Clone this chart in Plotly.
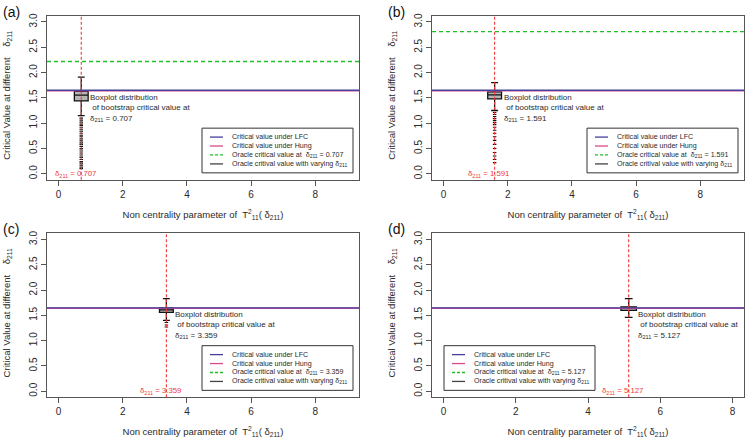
import plotly.graph_objects as go
from plotly.subplots import make_subplots

# ---------------- data ----------------
panel_labels = ["(a)", "(b)", "(c)", "(d)"]
delta_values = [0.707, 1.591, 3.359, 5.127]
delta_text = ["0.707", "1.591", "3.359", "5.127"]
x_max_data = [9.0, 9.0, 9.0, 8.0]

crit_lfc = [1.65, 1.65, 1.65, 1.65]
crit_hung = [1.64, 1.64, 1.64, 1.64]
oracle_crit = [2.22, 2.81, None, None]   # (c),(d): above the plotted range

box_q1 = [1.44, 1.48, 1.56, 1.60]
box_median = [1.555, 1.56, 1.61, 1.64]
box_q3 = [1.63, 1.62, 1.65, 1.67]
box_low = [1.15, 1.25, 1.40, 1.46]
box_high = [1.91, 1.80, 1.83, 1.83]
outliers_a = [1.10, 1.06, 1.02, 0.98, 0.95, 0.91, 0.87, 0.84, 0.80, 0.76, 0.73, 0.69,
              0.65, 0.61, 0.58, 0.54, 0.50, 0.47, 0.43, 0.39, 0.35, 0.32, 0.28,
              0.24, 0.21, 0.17, 0.13, 0.10]
outliers_b = [1.21, 1.17, 1.13, 1.09, 1.05, 1.01, 0.97, 0.92, 0.86, 0.80, 0.73,
              0.66, 0.58, 0.50, 0.42, 0.35, 0.28, 0.22]
outliers_c = [1.36, 1.31, 1.27]
outliers_d = []
outliers = [outliers_a, outliers_b, outliers_c, outliers_d]

x_ticks = [0, 2, 4, 6, 8]
y_ticks = [0.0, 0.5, 1.0, 1.5, 2.0, 2.5, 3.0]
y_tick_text = ["0.0", "0.5", "1.0", "1.5", "2.0", "2.5", "3.0"]

x_title = "Non centrality parameter of  T<sup>2</sup><sub>11</sub>( δ<sub>211</sub>)"
y_title = "Critical Value at different\u00a0\u00a0\u00a0 δ<sub>211</sub>"
legend_names = ["Critical value under LFC", "Critical value under Hung",
                "Oracle critical value at  δ<sub>211</sub> = {d}",
                "Oracle critival value with varying δ<sub>211</sub>"]

# ---------------- styles ----------------
W, H = 755, 445
FONT = "Liberation Sans, Arial, sans-serif"
C_LFC = "#45409e"
C_HUNG = "#d94a8c"
C_GREEN = "#1fc02a"
C_RED = "#f03a3a"
C_ORACLE = "#444444"
C_AXIS = "#555555"
C_TEXT = "#2a2a2a"

# panel geometry in pixels: (left, right, top, bottom)
geom = [(47, 359, 13, 178), (432, 744, 13, 178),
        (47, 359, 232, 397), (432, 744, 232, 397)]
legend_left_side = [False, False, False, True]


def px(x):
    return x / W


def py(y):
    return 1 - y / H


fig = make_subplots(rows=2, cols=2)
rc = [(1, 1), (1, 2), (2, 1), (2, 2)]
shapes = []
annotations = []

for i in range(4):
    r, c = rc[i]
    d = delta_values[i]
    # boxplot of bootstrap critical value
    fig.add_trace(go.Box(
        x=[d], q1=[box_q1[i]], median=[box_median[i]], q3=[box_q3[i]],
        lowerfence=[box_low[i]], upperfence=[box_high[i]],
        width=0.43, whiskerwidth=0.5, boxpoints=False,
        fillcolor="#b5b5b5", line=dict(color="#111111", width=1.3),
        showlegend=False, hoverinfo="skip"), row=r, col=c)
    if outliers[i]:
        fig.add_trace(go.Scatter(
            x=[d] * len(outliers[i]), y=outliers[i], mode="markers",
            marker=dict(symbol="line-ew", size=2.5, color="#111111",
                        line=dict(color="#111111", width=1.1)),
            showlegend=False, hoverinfo="skip"), row=r, col=c)

    # reference lines
    fig.add_hline(y=crit_hung[i], line=dict(color=C_HUNG, width=1.6), row=r, col=c)
    fig.add_hline(y=crit_lfc[i], line=dict(color=C_LFC, width=1.3), row=r, col=c)
    if oracle_crit[i] is not None:
        fig.add_hline(y=oracle_crit[i], line=dict(color=C_GREEN, width=1.4, dash="4px,3px"),
                      row=r, col=c)
    fig.add_vline(x=d, line=dict(color=C_RED, width=1.1, dash="3px,2px"), row=r, col=c)

    xr = x_max_data[i] * 0.04
    axis_x = dict(range=[-xr, x_max_data[i] + xr], domain=[px(geom[i][0]), px(geom[i][1])],
                  tickvals=x_ticks, ticks="outside", ticklen=5, tickcolor=C_AXIS,
                  showgrid=False, zeroline=False, showline=True, mirror=True,
                  linecolor=C_AXIS, linewidth=1,
                  tickfont=dict(size=10, color=C_TEXT, family=FONT),
                  title=dict(text=x_title,
                             font=dict(size=9.5, color=C_TEXT, family=FONT), standoff=12))
    axis_y = dict(range=[-0.12, 3.12], domain=[py(geom[i][3]), py(geom[i][2])],
                  tickvals=y_ticks, ticktext=y_tick_text, tickangle=-90,
                  ticks="outside", ticklen=5, tickcolor=C_AXIS,
                  showgrid=False, zeroline=False, showline=True, mirror=True,
                  linecolor=C_AXIS, linewidth=1,
                  tickfont=dict(size=10, color=C_TEXT, family=FONT))
    fig.update_xaxes(axis_x, row=r, col=c)
    fig.update_yaxes(axis_y, row=r, col=c)

    L, R_, T, B = geom[i]
    xref = "x" if i == 0 else f"x{i+1}"
    yref = "y" if i == 0 else f"y{i+1}"
    # y-axis title
    annotations.append(dict(
        x=px(L - 40), y=py((T + B) / 2 - 2), xref="paper", yref="paper",
        xanchor="center", yanchor="middle", textangle=-90, showarrow=False,
        text=y_title, font=dict(size=9.5, color=C_TEXT, family=FONT)))
    # boxplot description
    annotations.append(dict(
        x=d, y=1.64, xref=xref, yref=yref, xanchor="left", yanchor="top",
        xshift=7, align="left", showarrow=False,
        text="Boxplot distribution<br>\u00a0of bootstrap critical value at<br>δ<sub>211</sub> = " + delta_text[i],
        font=dict(size=8.0, color=C_TEXT, family=FONT)))
    # red delta label
    annotations.append(dict(
        x=d, y=0.0, xref=xref, yref=yref, xanchor="center", yanchor="middle",
        xshift=-6, showarrow=False,
        text="δ<sub>211</sub> = " + delta_text[i],
        font=dict(size=7.8, color=C_RED, family=FONT)))
    # panel label
    annotations.append(dict(
        x=px(L - 46), y=py(T - 4), xref="paper", yref="paper",
        xanchor="left", yanchor="middle", showarrow=False, text=panel_labels[i],
        font=dict(size=14, color="#111111", family=FONT)))

    # legend box
    lw = 151
    lx0 = L + 12 if legend_left_side[i] else R_ - 6 - lw
    ly0 = T + 113
    lh = 45
    shapes.append(dict(type="rect", xref="paper", yref="paper",
                       x0=px(lx0), x1=px(lx0 + lw), y0=py(ly0 + lh), y1=py(ly0),
                       line=dict(color="#333333", width=1), fillcolor="white", layer="above"))
    row_colors = [C_LFC, C_HUNG, C_GREEN, C_ORACLE]
    row_dash = ["solid", "solid", "3px,2px", "solid"]
    for k in range(4):
        yy = ly0 + 9 + k * 9
        shapes.append(dict(type="line", xref="paper", yref="paper",
                           x0=px(lx0 + 8), x1=px(lx0 + 21), y0=py(yy), y1=py(yy),
                           line=dict(color=row_colors[k], width=1.3, dash=row_dash[k]),
                           layer="above"))
        annotations.append(dict(
            x=px(lx0 + 28), y=py(yy), xref="paper", yref="paper",
            xanchor="left", yanchor="middle", showarrow=False,
            text=legend_names[k].format(d=delta_text[i]),
            font=dict(size=7.1, color=C_TEXT, family=FONT)))

fig.update_layout(
    width=W, height=H, margin=dict(l=0, r=0, t=0, b=0),
    paper_bgcolor="white", plot_bgcolor="white",
    font=dict(family=FONT, color=C_TEXT), showlegend=False,
)
for s in shapes:
    fig.add_shape(s)
for a in annotations:
    fig.add_annotation(a)

fig.write_html("out.html", config={"displayModeBar": False},
               post_script="document.body.style.margin='0px';")
